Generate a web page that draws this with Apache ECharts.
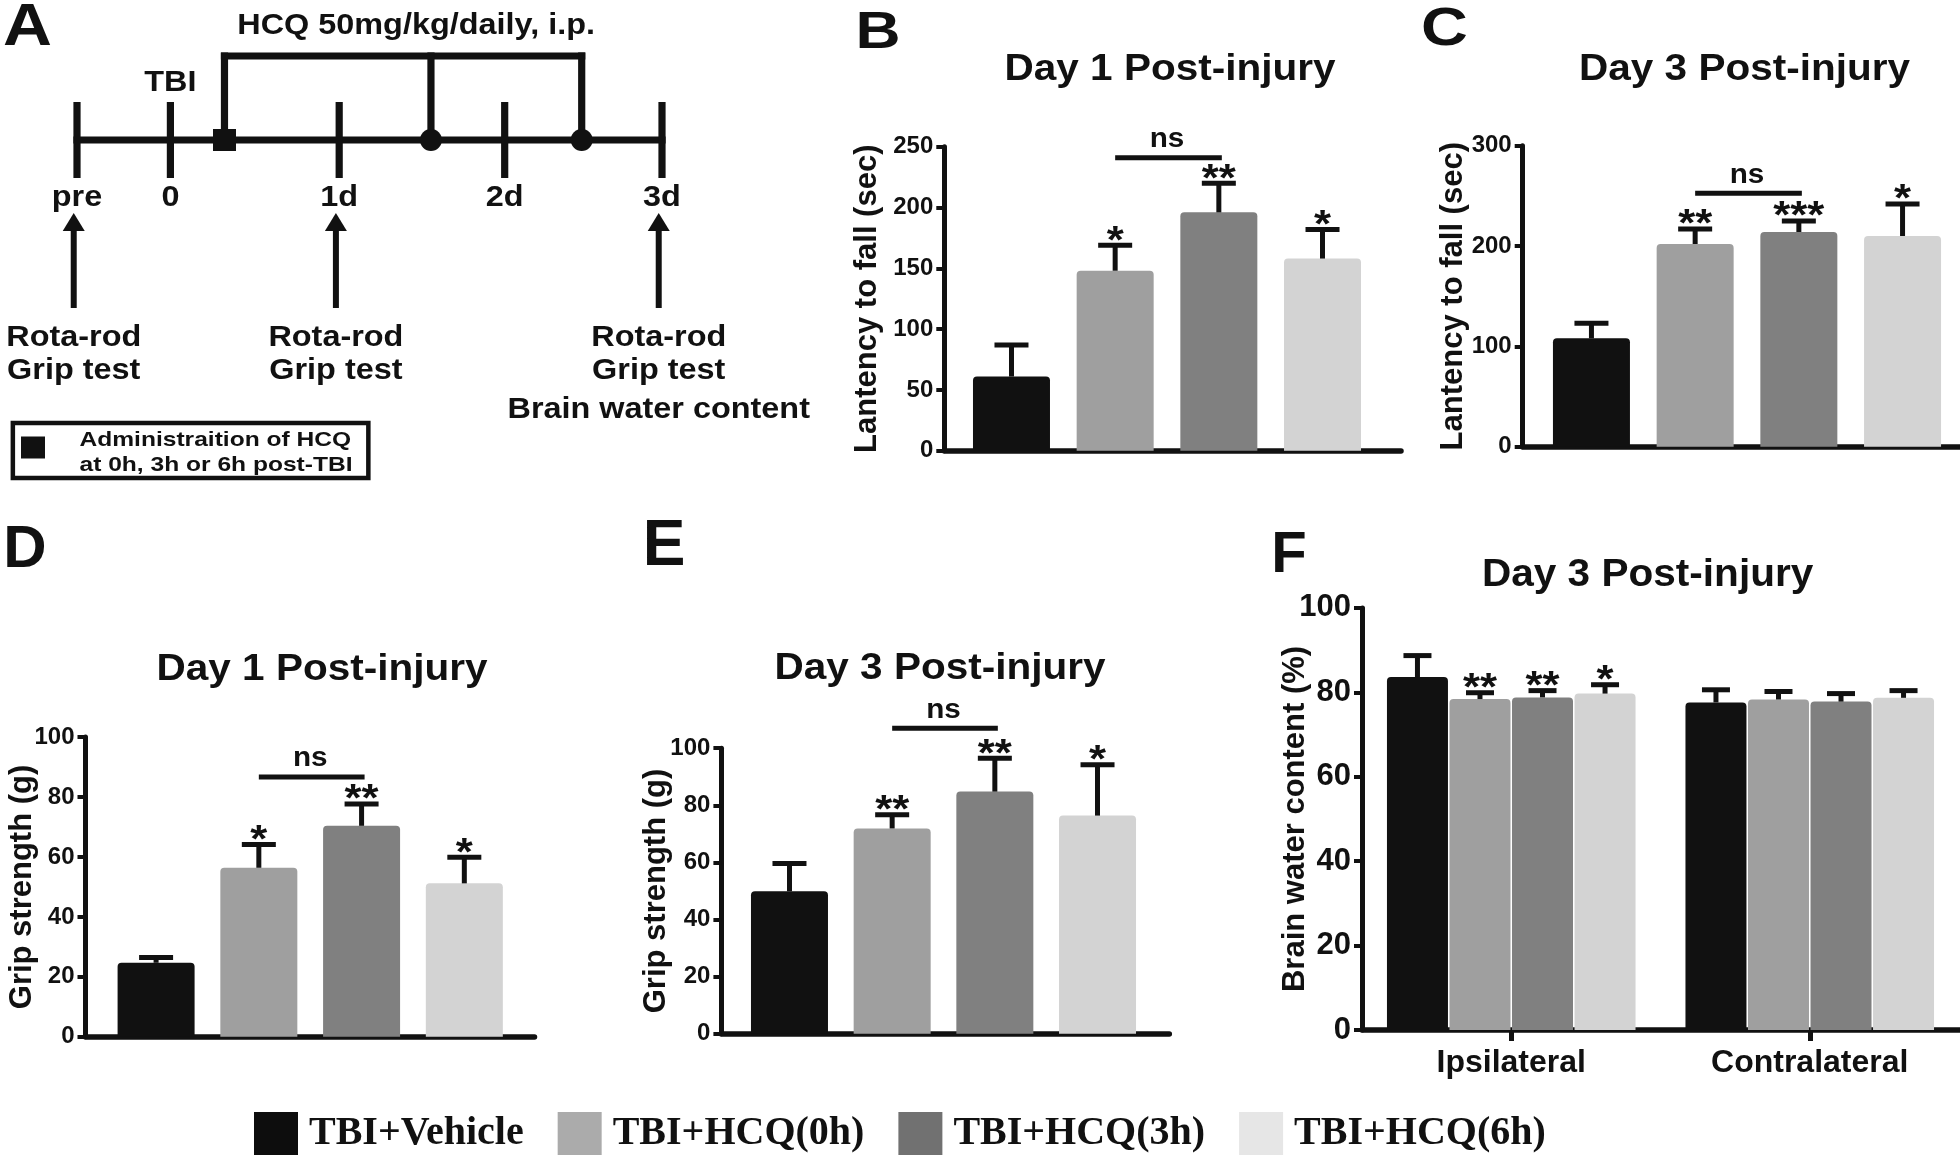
<!DOCTYPE html>
<html>
<head>
<meta charset="utf-8">
<script src="https://cdn.jsdelivr.net/npm/echarts@6.0.0/dist/echarts.min.js"></script>
<style>html,body{margin:0;padding:0;background:#fff}#c{width:1960px;height:1160px}</style>
</head>
<body>
<div id="c"></div>
<script>
// ---------------- DATA ----------------
const groups = ['TBI+Vehicle', 'TBI+HCQ(0h)', 'TBI+HCQ(3h)', 'TBI+HCQ(6h)'];

// Panel A: timeline (days relative to TBI)
const timelineTickDays = [-0.57, 0, 1.03, 2.04, 3];
const timelineTickLabels = ['pre', '0', '1d', '2d', '3d'];
const injuryDay = 0;
const injuryLabel = 'TBI';
const doseDays = [0.33, 1.59, 2.51];
const doseMarkers = ['square', 'circle', 'circle'];
const doseLabel = 'HCQ 50mg/kg/daily, i.p.';
const testDays = [-0.59, 1.01, 2.98];
const testLabels = [['Rota-rod', 'Grip test'], ['Rota-rod', 'Grip test'], ['Rota-rod', 'Grip test', 'Brain water content']];
const boxLabel = ['Administraition of HCQ', 'at 0h, 3h or 6h post-TBI'];

// Panel B: Rota-rod, day 1
const rotarodDay1Mean = [61, 148, 196, 158];
const rotarodDay1Sem = [26, 21, 24, 24];
const rotarodDay1Stars = ['', '*', '**', '*'];
const rotarodDay1Ns = [1, 2, 241];
const rotarodDay1Ticks = [0, 50, 100, 150, 200, 250];

// Panel C: Rota-rod, day 3
const rotarodDay3Mean = [108, 202, 214, 210];
const rotarodDay3Sem = [15, 15, 11, 32];
const rotarodDay3Stars = ['', '**', '***', '*'];
const rotarodDay3Ns = [1, 2, 252.5];
const rotarodDay3Ticks = [0, 100, 200, 300];

// Panel D: grip strength, day 1
const gripDay1Mean = [24.7, 56.4, 70.4, 51.2];
const gripDay1Sem = [1.8, 7.8, 7.3, 8.7];
const gripDay1Stars = ['', '*', '**', '*'];
const gripDay1Ns = [1, 2, 86.7];
const gripDay1Ticks = [0, 20, 40, 60, 80, 100];

// Panel E: grip strength, day 3
const gripDay3Mean = [49.9, 71.9, 84.8, 76.4];
const gripDay3Sem = [9.7, 4.8, 11.7, 17.8];
const gripDay3Stars = ['', '**', '**', '*'];
const gripDay3Ns = [1, 2, 107];
const gripDay3Ticks = [0, 20, 40, 60, 80, 100];

// Panel F: brain water content, day 3 (per group: [Ipsilateral, Contralateral])
const sides = ['Ipsilateral', 'Contralateral'];
const waterMean = [[83.6, 77.6], [78.4, 78.3], [78.8, 77.8], [79.7, 78.7]];
const waterSem = [[5.1, 3.0], [1.5, 1.9], [1.6, 1.9], [2.1, 1.7]];
const waterStars = [['', ''], ['**', ''], ['**', ''], ['*', '']];
const waterTicks = [0, 20, 40, 60, 80, 100];

// ---------------- STYLE ----------------
const INK = '#111111';
const SANS = "'Liberation Sans', Arial, Helvetica, sans-serif";
const SERIF = "'Liberation Serif', 'Times New Roman', serif";
const barColors = ['#111111', '#9f9f9f', '#808080', '#d3d3d3'];
const legendColors = ['#0d0d0d', '#ababab', '#717171', '#e6e6e6'];

function textEl(x, y, text, size, sx, align, family) {
  return {
    type: 'text', x: x, y: y, scaleX: sx || 1, silent: true,
    style: { text: text, fill: INK, fontSize: size, fontWeight: 'bold', fontFamily: family || SANS,
             align: align || 'center', verticalAlign: 'middle' }
  };
}
function lineEl(x1, y1, x2, y2, w) {
  return { type: 'line', silent: true, shape: { x1: x1, y1: y1, x2: x2, y2: y2 }, style: { stroke: INK, lineWidth: w } };
}

// ---------------- PANEL A (timeline) ----------------
const A_LAYOUT = { axisY: 140, tickTop: 102, tickBottom: 178, tickLabelY: 197.5, injuryY: 83, bracketY: 56,
  doseLabelY: 26, doseLabelShift: 13, arrowTip: 213, arrowHeadBase: 231, arrowBottom: 308,
  testLabelY: [337.5, 370.8, 410], lineW: 7.2, textSize: 30, textSx: 1.08 };

function renderTimeline(params, api) {
  const X = d => api.coord([d, 0])[0];
  const L = A_LAYOUT;
  const ch = [];
  const last = timelineTickDays.length - 1;
  ch.push(lineEl(X(timelineTickDays[0]) - L.lineW / 2, L.axisY, X(timelineTickDays[last]) + L.lineW / 2, L.axisY, L.lineW));
  timelineTickDays.forEach((d, i) => {
    ch.push(lineEl(X(d), L.tickTop, X(d), L.tickBottom, L.lineW));
    ch.push(textEl(X(d), L.tickLabelY, timelineTickLabels[i], L.textSize, L.textSx));
  });
  ch.push(textEl(X(injuryDay), L.injuryY, injuryLabel, L.textSize, L.textSx));
  const dx = doseDays.map(X);
  ch.push(lineEl(dx[0] - L.lineW / 2, L.bracketY, dx[dx.length - 1] + L.lineW / 2, L.bracketY, L.lineW));
  dx.forEach(x => ch.push(lineEl(x, L.bracketY - L.lineW / 2, x, L.axisY, L.lineW)));
  dx.forEach((x, i) => {
    if (doseMarkers[i] === 'square') {
      ch.push({ type: 'rect', shape: { x: x - 11.5, y: L.axisY - 11, width: 23, height: 22 }, style: { fill: INK } });
    } else {
      ch.push({ type: 'circle', shape: { cx: x, cy: L.axisY, r: 11 }, style: { fill: INK } });
    }
  });
  ch.push(textEl((dx[0] + dx[dx.length - 1]) / 2 + L.doseLabelShift, L.doseLabelY, doseLabel, L.textSize, L.textSx));
  testDays.forEach((d, i) => {
    const x = X(d);
    ch.push(lineEl(x, L.arrowHeadBase - 1, x, L.arrowBottom, 6));
    ch.push({ type: 'polygon', shape: { points: [[x, L.arrowTip], [x - 11, L.arrowHeadBase], [x + 11, L.arrowHeadBase]] }, style: { fill: INK } });
    testLabels[i].forEach((t, r) => ch.push(textEl(x, L.testLabelY[r], t, L.textSize, L.textSx)));
  });
  return { type: 'group', children: ch };
}

// ---------------- BAR PANELS B-E ----------------
const barPanels = [
  { grid: { left: 944.3, top: 146.7, width: 456.7, height: 304 }, xMin: -0.648, xMax: 3.757,
    ticks: rotarodDay1Ticks, yName: 'Lantency to fall (sec)', nameGap: 61,
    mean: rotarodDay1Mean, sem: rotarodDay1Sem, stars: rotarodDay1Stars, ns: rotarodDay1Ns },
  { grid: { left: 1522.7, top: 145.7, width: 437.3, height: 301 }, xMin: -0.663, xMax: 3.554,
    ticks: rotarodDay3Ticks, yName: 'Lantency to fall (sec)', nameGap: 53.6,
    mean: rotarodDay3Mean, sem: rotarodDay3Sem, stars: rotarodDay3Stars, ns: rotarodDay3Ns },
  { grid: { left: 85.5, top: 737.1, width: 449, height: 299.7 }, xMin: -0.687, xMax: 3.683,
    ticks: gripDay1Ticks, yName: 'Grip strength (g)', nameGap: 48,
    mean: gripDay1Mean, sem: gripDay1Sem, stars: gripDay1Stars, ns: gripDay1Ns },
  { grid: { left: 721.4, top: 748.2, width: 447.9, height: 285.6 }, xMin: -0.663, xMax: 3.699,
    ticks: gripDay3Ticks, yName: 'Grip strength (g)', nameGap: 49.5,
    mean: gripDay3Mean, sem: gripDay3Sem, stars: gripDay3Stars, ns: gripDay3Ns }
];

const CAP = 34, STAR_SIZE = 38, STAR_SX = 1.15, STAR_LIFT = 3;

function yAxisFor(gridIndex, ticks, name, nameGap, labelSize) {
  return {
    gridIndex: gridIndex, type: 'value', min: ticks[0], max: ticks[ticks.length - 1], interval: ticks[1] - ticks[0],
    name: name, nameLocation: 'middle', nameGap: nameGap, nameRotate: 90, nameMoveOverlap: false,
    nameTextStyle: { fontSize: 31, fontWeight: 'bold', fontFamily: SANS, color: INK },
    axisLine: { show: true, onZero: false, lineStyle: { color: INK, width: 5 } },
    axisTick: { show: true, length: 8, lineStyle: { color: INK, width: 4 } },
    axisLabel: { fontSize: labelSize, fontWeight: 'bold', fontFamily: SANS, color: INK, margin: 11 },
    splitLine: { show: false }
  };
}

const grids = [{ left: 77, width: 585, top: 100, height: 80 }];
const xAxes = [{ gridIndex: 0, type: 'value', min: timelineTickDays[0], max: timelineTickDays[timelineTickDays.length - 1], show: false }];
const yAxes = [{ gridIndex: 0, type: 'value', min: 0, max: 1, show: false }];
const series = [{ type: 'custom', xAxisIndex: 0, yAxisIndex: 0, data: [[0, 0]], renderItem: renderTimeline, clip: false, silent: true, z: 10 }];

barPanels.forEach((p, k) => {
  const gi = k + 1;
  grids.push(p.grid);
  xAxes.push({ gridIndex: gi, type: 'value', min: p.xMin, max: p.xMax,
    axisLine: { show: true, onZero: false, lineStyle: { color: INK, width: 5.5 } },
    axisTick: { show: false }, axisLabel: { show: false }, splitLine: { show: false } });
  yAxes.push(yAxisFor(gi, p.ticks, p.yName, p.nameGap, 24));
  series.push({
    type: 'bar', xAxisIndex: gi, yAxisIndex: gi, barWidth: 77, silent: true,
    data: p.mean.map((v, i) => ({ value: [i, v], itemStyle: { color: barColors[i], borderRadius: [4, 4, 0, 0] } }))
  });
  series.push({
    type: 'custom', xAxisIndex: gi, yAxisIndex: gi, clip: false, silent: true, z: 5,
    data: p.mean.map((v, i) => [i, v, v + p.sem[i]]),
    renderItem: (params, api) => {
      const pm = api.coord([api.value(0), api.value(1)]);
      const pt = api.coord([api.value(0), api.value(2)]);
      const ch = [lineEl(pm[0], pm[1], pt[0], pt[1], 5), lineEl(pt[0] - CAP / 2, pt[1], pt[0] + CAP / 2, pt[1], 5)];
      const s = p.stars[params.dataIndex];
      if (s) ch.push(textEl(pt[0], pt[1] - STAR_LIFT, s, STAR_SIZE, STAR_SX));
      return { type: 'group', children: ch };
    }
  });
  series.push({
    type: 'custom', xAxisIndex: gi, yAxisIndex: gi, clip: false, silent: true, z: 5,
    data: [p.ns],
    renderItem: (params, api) => {
      const a = api.coord([api.value(0), api.value(2)]);
      const b = api.coord([api.value(1), api.value(2)]);
      return { type: 'group', children: [lineEl(a[0], a[1], b[0] + 3, b[1], 5), textEl((a[0] + b[0]) / 2, a[1] - 18, 'ns', 27, 1.1)] };
    }
  });
});

// ---------------- PANEL F ----------------
const F_GI = 5;
const F_BAR = 61, F_GAP = 0.025, F_CAP = 28;
grids.push({ left: 1362, top: 607.9, width: 597, height: 422.1 });
xAxes.push({ gridIndex: F_GI, type: 'category', data: sides,
  axisLine: { show: true, onZero: false, lineStyle: { color: INK, width: 5.5 } },
  axisTick: { show: true, alignWithLabel: true, length: 11, lineStyle: { color: INK, width: 5 } },
  axisLabel: { fontSize: 32, fontWeight: 'bold', fontFamily: SANS, color: INK, margin: 17 },
  splitLine: { show: false } });
yAxes.push(yAxisFor(F_GI, waterTicks, 'Brain water content (%)', 51.5, 31));
groups.forEach((g, j) => {
  series.push({ type: 'bar', name: g, xAxisIndex: F_GI, yAxisIndex: F_GI, barWidth: F_BAR, barGap: (F_GAP * 100) + '%', silent: true,
    itemStyle: { color: barColors[j], borderRadius: [4, 4, 0, 0] }, data: waterMean[j] });
});
const fErrData = [];
groups.forEach((g, j) => sides.forEach((s, k) => fErrData.push([k, waterMean[j][k], waterMean[j][k] + waterSem[j][k], j])));
series.push({
  type: 'custom', xAxisIndex: F_GI, yAxisIndex: F_GI, clip: false, silent: true, z: 5, data: fErrData,
  renderItem: (params, api) => {
    const k = api.value(0), j = api.value(3);
    const shift = (j - 1.5) * F_BAR * (1 + F_GAP);
    const pm = api.coord([k, api.value(1)]);
    const pt = api.coord([k, api.value(2)]);
    const x = pm[0] + shift;
    const ch = [lineEl(x, pm[1], x, pt[1], 5), lineEl(x - F_CAP / 2, pt[1], x + F_CAP / 2, pt[1], 5)];
    const s = waterStars[j][k];
    if (s) ch.push(textEl(x, pt[1] - STAR_LIFT, s, STAR_SIZE, STAR_SX));
    return { type: 'group', children: ch };
  }
});

grids.forEach(g => { g.outerBoundsMode = 'none'; g.containLabel = false; });

// ---------------- TEXT / ANNOTATIONS ----------------
const graphics = [
  textEl(27.5, 28, 'A', 60, 1.13),
  textEl(878, 33.5, 'B', 52, 1.2),
  textEl(1444.5, 30, 'C', 54, 1.2),
  textEl(25, 550, 'D', 60, 1.0),
  textEl(664, 547.5, 'E', 64, 1.0),
  textEl(1289, 556, 'F', 58, 1.0),
  textEl(1170, 70, 'Day 1 Post-injury', 37, 1.095),
  textEl(1744.5, 70, 'Day 3 Post-injury', 37, 1.095),
  textEl(322, 669.6, 'Day 1 Post-injury', 37, 1.095),
  textEl(940, 669, 'Day 3 Post-injury', 37, 1.095),
  textEl(1647.6, 575, 'Day 3 Post-injury', 39, 1.04),
  { type: 'rect', silent: true, shape: { x: 12.85, y: 423, width: 355.5, height: 55 }, style: { fill: 'none', stroke: INK, lineWidth: 4.5 } },
  { type: 'rect', silent: true, shape: { x: 21, y: 436.5, width: 24, height: 22 }, style: { fill: INK } },
  textEl(79.5, 440.5, boxLabel[0], 21, 1.17, 'left'),
  textEl(79.5, 465, boxLabel[1], 21, 1.17, 'left')
];

const option = {
  backgroundColor: '#ffffff',
  animation: false,
  grid: grids,
  xAxis: xAxes,
  yAxis: yAxes,
  legend: {
    data: groups.map((g, i) => ({ name: g, icon: 'rect', itemStyle: { color: legendColors[i] } })),
    left: 254, top: 1112, padding: 0, itemWidth: 44, itemHeight: 43, itemGap: 34, selectedMode: false,
    textStyle: { fontFamily: SERIF, fontWeight: 'bold', fontSize: 40, color: INK, padding: [0, 0, 0, 6] }
  },
  graphic: graphics,
  series: series
};

const chart = echarts.init(document.getElementById('c'), null, { renderer: 'canvas', width: 1960, height: 1160 });
chart.setOption(option);
</script>
</body>
</html>
